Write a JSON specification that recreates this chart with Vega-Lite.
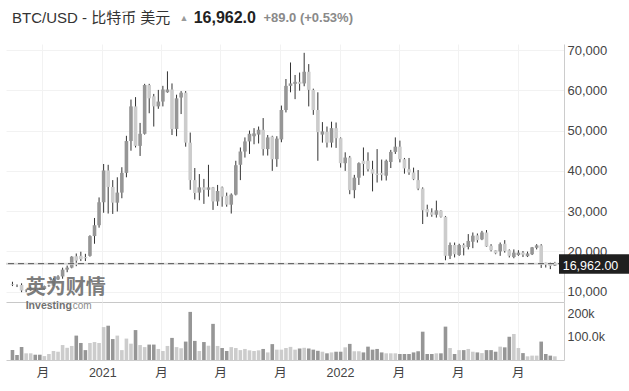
{
  "$schema": "https://vega.github.io/schema/vega-lite/v6.json",
  "padding": {"left": 5, "top": 9, "right": 0, "bottom": 0},
  "background": "white",
  "spacing": 0,
  "bounds": "flush",
  "config": {"view": {"stroke": null}, "font": "Liberation Sans, Noto Sans CJK SC"},
  "datasets": {
    "w": [
      {"d":"2020-08-16","o":11860,"h":12470,"l":11390,"c":11650,"v":43000},
      {"d":"2020-08-23","o":11690,"h":11800,"l":11150,"c":11650,"v":22000},
      {"d":"2020-08-30","o":11650,"h":12080,"l":9880,"c":10280,"v":56000},
      {"d":"2020-09-06","o":10280,"h":10600,"l":9880,"c":10330,"v":29000},
      {"d":"2020-09-13","o":10330,"h":11180,"l":10220,"c":10940,"v":29000},
      {"d":"2020-09-20","o":10940,"h":11050,"l":10140,"c":10730,"v":23000},
      {"d":"2020-09-27","o":10730,"h":10950,"l":10440,"c":10670,"v":23000},
      {"d":"2020-10-04","o":10670,"h":11490,"l":10530,"c":11380,"v":17000},
      {"d":"2020-10-11","o":11380,"h":11720,"l":11210,"c":11500,"v":26000},
      {"d":"2020-10-18","o":11500,"h":13350,"l":11420,"c":13030,"v":39000},
      {"d":"2020-10-25","o":13030,"h":14090,"l":12890,"c":13780,"v":36000},
      {"d":"2020-11-01","o":13780,"h":15960,"l":13220,"c":15480,"v":65000},
      {"d":"2020-11-08","o":15480,"h":16480,"l":14830,"c":15970,"v":53000},
      {"d":"2020-11-15","o":15970,"h":18800,"l":15800,"c":18700,"v":61000},
      {"d":"2020-11-22","o":18800,"h":19480,"l":16330,"c":17700,"v":106000},
      {"d":"2020-11-29","o":18900,"h":19920,"l":17600,"c":18100,"v":74000},
      {"d":"2020-12-06","o":18600,"h":19400,"l":17600,"c":18300,"v":43000},
      {"d":"2020-12-13","o":18900,"h":24000,"l":18700,"c":23800,"v":74000},
      {"d":"2020-12-20","o":23800,"h":28300,"l":21900,"c":26500,"v":78000},
      {"d":"2020-12-27","o":26500,"h":33400,"l":25900,"c":32200,"v":74000},
      {"d":"2021-01-03","o":32200,"h":41700,"l":29600,"c":40100,"v":143000},
      {"d":"2021-01-10","o":40100,"h":41500,"l":29400,"c":36000,"v":149000},
      {"d":"2021-01-17","o":36000,"h":37700,"l":29300,"c":32100,"v":91000},
      {"d":"2021-01-24","o":32100,"h":38400,"l":29900,"c":34600,"v":106000},
      {"d":"2021-01-31","o":34600,"h":40900,"l":33200,"c":39500,"v":43000},
      {"d":"2021-02-07","o":39500,"h":48700,"l":38400,"c":47400,"v":93000},
      {"d":"2021-02-14","o":47400,"h":57700,"l":45000,"c":56000,"v":71000},
      {"d":"2021-02-21","o":56000,"h":58300,"l":45800,"c":46200,"v":130000},
      {"d":"2021-02-28","o":46200,"h":51900,"l":43700,"c":49200,"v":65000},
      {"d":"2021-03-07","o":49200,"h":61600,"l":49000,"c":61300,"v":56000},
      {"d":"2021-03-14","o":61300,"h":61600,"l":54300,"c":58000,"v":67000},
      {"d":"2021-03-21","o":58500,"h":59100,"l":51000,"c":56000,"v":67000},
      {"d":"2021-03-28","o":56000,"h":60100,"l":55400,"c":57200,"v":48000},
      {"d":"2021-04-04","o":57200,"h":61100,"l":56000,"c":60200,"v":39000},
      {"d":"2021-04-11","o":59500,"h":64700,"l":59400,"c":60200,"v":61000},
      {"d":"2021-04-18","o":60200,"h":61700,"l":48900,"c":50400,"v":96000},
      {"d":"2021-04-25","o":50400,"h":58900,"l":48600,"c":58000,"v":56000},
      {"d":"2021-05-02","o":58200,"h":59800,"l":54100,"c":59400,"v":51000},
      {"d":"2021-05-09","o":59400,"h":59800,"l":46000,"c":47000,"v":80000},
      {"d":"2021-05-16","o":47000,"h":49500,"l":35300,"c":37700,"v":209000},
      {"d":"2021-05-23","o":37700,"h":40700,"l":32900,"c":34500,"v":83000},
      {"d":"2021-05-30","o":34600,"h":39200,"l":32700,"c":35900,"v":39000},
      {"d":"2021-06-06","o":35900,"h":38000,"l":31800,"c":35300,"v":78000},
      {"d":"2021-06-13","o":35300,"h":41500,"l":33600,"c":35900,"v":62000},
      {"d":"2021-06-20","o":35900,"h":36000,"l":30300,"c":32400,"v":157000},
      {"d":"2021-06-27","o":32400,"h":36500,"l":31300,"c":35000,"v":61000},
      {"d":"2021-07-04","o":35900,"h":36100,"l":31100,"c":33600,"v":52000},
      {"d":"2021-07-11","o":33800,"h":34600,"l":31100,"c":31600,"v":39000},
      {"d":"2021-07-18","o":31600,"h":34400,"l":29400,"c":34100,"v":56000},
      {"d":"2021-07-25","o":34100,"h":42500,"l":33900,"c":41400,"v":52000},
      {"d":"2021-08-01","o":41500,"h":45800,"l":37700,"c":44800,"v":43000},
      {"d":"2021-08-08","o":44800,"h":48300,"l":43300,"c":47300,"v":48000},
      {"d":"2021-08-15","o":47300,"h":50000,"l":44200,"c":49200,"v":42000},
      {"d":"2021-08-22","o":48600,"h":50600,"l":46600,"c":49300,"v":39000},
      {"d":"2021-08-29","o":49000,"h":51000,"l":46800,"c":50200,"v":42000},
      {"d":"2021-09-05","o":50200,"h":53100,"l":43800,"c":45400,"v":48000},
      {"d":"2021-09-12","o":45400,"h":48900,"l":43800,"c":48300,"v":33000},
      {"d":"2021-09-19","o":48500,"h":48700,"l":40000,"c":42900,"v":69000},
      {"d":"2021-09-26","o":42900,"h":48600,"l":41000,"c":48000,"v":45000},
      {"d":"2021-10-03","o":47800,"h":56200,"l":47100,"c":55100,"v":45000},
      {"d":"2021-10-10","o":55100,"h":62800,"l":54500,"c":61100,"v":52000},
      {"d":"2021-10-17","o":61100,"h":66900,"l":59500,"c":61700,"v":57000},
      {"d":"2021-10-24","o":61600,"h":63800,"l":57800,"c":62100,"v":45000},
      {"d":"2021-10-31","o":62100,"h":64400,"l":59900,"c":61600,"v":50000},
      {"d":"2021-11-07","o":61700,"h":69300,"l":61000,"c":64600,"v":53000},
      {"d":"2021-11-14","o":64600,"h":66500,"l":56000,"c":60100,"v":50000},
      {"d":"2021-11-21","o":60100,"h":60400,"l":53900,"c":55100,"v":45000},
      {"d":"2021-11-28","o":55100,"h":59500,"l":42500,"c":49600,"v":40000},
      {"d":"2021-12-05","o":49000,"h":52100,"l":47000,"c":49800,"v":36000},
      {"d":"2021-12-12","o":49700,"h":51000,"l":45800,"c":47000,"v":29000},
      {"d":"2021-12-19","o":47000,"h":52200,"l":45800,"c":50600,"v":33000},
      {"d":"2021-12-26","o":50600,"h":52000,"l":45700,"c":48100,"v":36000},
      {"d":"2022-01-02","o":48100,"h":48300,"l":40800,"c":41900,"v":36000},
      {"d":"2022-01-09","o":41900,"h":44600,"l":40000,"c":43300,"v":55000},
      {"d":"2022-01-16","o":43300,"h":43700,"l":34200,"c":35200,"v":70000},
      {"d":"2022-01-23","o":35200,"h":39000,"l":33200,"c":38300,"v":38000},
      {"d":"2022-01-30","o":38300,"h":42100,"l":36500,"c":41900,"v":38000},
      {"d":"2022-02-06","o":42500,"h":45800,"l":38800,"c":41700,"v":33000},
      {"d":"2022-02-13","o":42500,"h":44600,"l":39850,"c":40400,"v":58000},
      {"d":"2022-02-20","o":40400,"h":42500,"l":34900,"c":39300,"v":45000},
      {"d":"2022-02-27","o":39300,"h":45400,"l":37100,"c":39000,"v":48000},
      {"d":"2022-03-06","o":39500,"h":42800,"l":37600,"c":39000,"v":33000},
      {"d":"2022-03-13","o":38800,"h":42800,"l":37600,"c":42500,"v":29000},
      {"d":"2022-03-20","o":42200,"h":45200,"l":40700,"c":44700,"v":29000},
      {"d":"2022-03-27","o":44700,"h":48300,"l":44200,"c":46000,"v":29000},
      {"d":"2022-04-03","o":46000,"h":47500,"l":42100,"c":42900,"v":26000},
      {"d":"2022-04-10","o":42900,"h":43200,"l":39300,"c":40600,"v":26000},
      {"d":"2022-04-17","o":40400,"h":43200,"l":39000,"c":39600,"v":26000},
      {"d":"2022-04-24","o":39600,"h":40800,"l":37700,"c":37900,"v":33000},
      {"d":"2022-05-01","o":37700,"h":40200,"l":35200,"c":35600,"v":38000},
      {"d":"2022-05-08","o":35600,"h":35900,"l":26800,"c":30200,"v":123000},
      {"d":"2022-05-15","o":30500,"h":31600,"l":28600,"c":29700,"v":26000},
      {"d":"2022-05-22","o":29700,"h":30700,"l":28600,"c":29100,"v":26000},
      {"d":"2022-05-29","o":29100,"h":32600,"l":28400,"c":30200,"v":29000},
      {"d":"2022-06-05","o":30100,"h":30200,"l":28400,"c":28600,"v":29000},
      {"d":"2022-06-12","o":28600,"h":28800,"l":17800,"c":18900,"v":145000},
      {"d":"2022-06-19","o":18900,"h":22200,"l":18100,"c":21600,"v":52000},
      {"d":"2022-06-26","o":21600,"h":22200,"l":18500,"c":19300,"v":26000},
      {"d":"2022-07-03","o":19100,"h":21900,"l":18900,"c":21600,"v":43000},
      {"d":"2022-07-10","o":21600,"h":22000,"l":19000,"c":20900,"v":43000},
      {"d":"2022-07-17","o":21100,"h":24300,"l":20500,"c":22600,"v":48000},
      {"d":"2022-07-24","o":22400,"h":24700,"l":20800,"c":23900,"v":36000},
      {"d":"2022-07-31","o":24000,"h":24450,"l":22200,"c":22800,"v":33000},
      {"d":"2022-08-07","o":23000,"h":25100,"l":22800,"c":24700,"v":30000},
      {"d":"2022-08-14","o":24700,"h":25300,"l":21100,"c":21200,"v":43000},
      {"d":"2022-08-21","o":21400,"h":21800,"l":20000,"c":20300,"v":43000},
      {"d":"2022-08-28","o":20300,"h":20300,"l":19300,"c":19500,"v":36000},
      {"d":"2022-09-04","o":20000,"h":22200,"l":18900,"c":21800,"v":58000},
      {"d":"2022-09-11","o":21900,"h":22800,"l":19700,"c":20100,"v":55000},
      {"d":"2022-09-18","o":20300,"h":20500,"l":18500,"c":18900,"v":101000},
      {"d":"2022-09-25","o":18600,"h":20500,"l":18300,"c":19700,"v":113000},
      {"d":"2022-10-02","o":19100,"h":20300,"l":18900,"c":19700,"v":52000},
      {"d":"2022-10-09","o":19700,"h":20100,"l":18600,"c":19200,"v":30000},
      {"d":"2022-10-16","o":18800,"h":19950,"l":18600,"c":19500,"v":16000},
      {"d":"2022-10-23","o":19300,"h":21100,"l":19100,"c":21000,"v":19000},
      {"d":"2022-10-30","o":20900,"h":21800,"l":20500,"c":21500,"v":19000},
      {"d":"2022-11-06","o":21500,"h":21800,"l":15900,"c":16800,"v":80000},
      {"d":"2022-11-13","o":17200,"h":17200,"l":16000,"c":16800,"v":26000},
      {"d":"2022-11-20","o":16900,"h":17200,"l":15600,"c":16400,"v":19000},
      {"d":"2022-11-27","o":16500,"h":17400,"l":16400,"c":16962,"v":16000}
    ]
  },
  "vconcat": [
    {
      "width": 558,
      "height": 258,
      "layer": [
        {
          "data": {"name": "w"},
          "mark": {"type": "rule", "color": "#333333", "strokeWidth": 1},
          "encoding": {
            "x": {
              "field": "d", "type": "temporal",
              "scale": {"type": "utc", "nice": false, "domain": [{"year":2020,"month":8,"date":13,"hours":18,"utc":true},{"year":2022,"month":12,"date":3,"hours":8,"utc":true}]},
              "axis": {"values": [{"year":2020,"month":10,"date":1,"utc":true},{"year":2021,"month":1,"date":1,"utc":true},{"year":2021,"month":4,"date":1,"utc":true},{"year":2021,"month":7,"date":1,"utc":true},{"year":2021,"month":10,"date":1,"utc":true},{"year":2022,"month":1,"date":1,"utc":true},{"year":2022,"month":4,"date":1,"utc":true},{"year":2022,"month":7,"date":1,"utc":true},{"year":2022,"month":10,"date":1,"utc":true}],
                       "labels": false, "ticks": false, "domain": true, "domainColor": "#c8c8c8", "grid": true, "gridColor": "#f2f2f2", "title": null}
            },
            "y": {"field": "l", "type": "quantitative",
                  "scale": {"domain": [7440, 71490], "nice": false, "zero": false},
                  "axis": {"orient": "right", "values": [10000,20000,30000,40000,50000,60000,70000], "labelExpr": "format(datum.value, ',')", "grid": true, "gridColor": "#f2f2f2", "ticks": false, "domain": true, "domainColor": "#cccccc", "labelPadding": 3, "labelFontSize": 13, "labelColor": "#444444", "title": null}},
            "y2": {"field": "h"}
          }
        },
        {
          "data": {"name": "w"},
          "mark": {"type": "bar", "size": 3.6},
          "encoding": {
            "x": {"field": "d", "type": "temporal"},
            "y": {"field": "o", "type": "quantitative"},
            "y2": {"field": "c"},
            "color": {"condition": {"test": "datum.c >= datum.o", "value": "#969696"}, "value": "#cccccc"}
          }
        },
        {
          "data": {"values": [{"p": 16962}]},
          "mark": {"type": "rule", "color": "#d9d9d9", "strokeWidth": 2},
          "encoding": {"y": {"field": "p", "type": "quantitative"}}
        },
        {
          "data": {"values": [{"p": 16962}]},
          "mark": {"type": "rule", "color": "#555555", "strokeWidth": 1, "strokeDash": [6, 4]},
          "encoding": {"y": {"field": "p", "type": "quantitative"}}
        },
        {
          "data": {"values": [{"a": "2022-12-03T08:00:00Z", "b": "2023-03-31T00:00:00Z", "top": 19300, "bot": 14470}]},
          "mark": {"type": "rect", "color": "#1f1f1f"},
          "encoding": {
            "x": {"field": "a", "type": "temporal"},
            "x2": {"field": "b"},
            "y": {"field": "top", "type": "quantitative"},
            "y2": {"field": "bot"}
          }
        },
        {
          "data": {"values": [{"t": "16,962.00", "a": "2022-12-09T00:00:00Z", "p": 16500}]},
          "mark": {"type": "text", "color": "#ffffff", "fontSize": 12.5, "align": "left", "baseline": "middle"},
          "encoding": {
            "x": {"field": "a", "type": "temporal"},
            "y": {"field": "p", "type": "quantitative"},
            "text": {"field": "t"}
          }
        },
        {
          "data": {"values": [{"t": "英为财情", "a": "2020-09-05T08:00:00Z", "p": 10950}]},
          "mark": {"type": "text", "color": "#707070", "opacity": 0.9, "fontSize": 20, "fontWeight": "bold", "font": "Noto Sans CJK SC", "align": "left", "baseline": "middle"},
          "encoding": {
            "x": {"field": "a", "type": "temporal"},
            "y": {"field": "p", "type": "quantitative"},
            "text": {"field": "t"}
          }
        },
        {
          "data": {"values": [{"t": "BTC/USD - 比特币 美元", "a": "2020-08-15T06:00:00Z", "p": 78030}]},
          "mark": {"type": "text", "color": "#333333", "fontSize": 15, "align": "left", "baseline": "middle"},
          "encoding": {
            "x": {"field": "a", "type": "temporal"},
            "y": {"field": "p", "type": "quantitative"},
            "text": {"field": "t"}
          }
        },
        {
          "data": {"values": [{"t": "▲", "a": "2021-05-06T06:00:00Z", "p": 78030}]},
          "mark": {"type": "text", "color": "#9a9a9a", "fontSize": 9, "align": "center", "baseline": "middle"},
          "encoding": {
            "x": {"field": "a", "type": "temporal"},
            "y": {"field": "p", "type": "quantitative"},
            "text": {"field": "t"}
          }
        },
        {
          "data": {"values": [{"t": "16,962.0", "a": "2021-05-21T06:00:00Z", "p": 78030}]},
          "mark": {"type": "text", "color": "#222222", "fontSize": 16, "fontWeight": "bold", "align": "left", "baseline": "middle"},
          "encoding": {
            "x": {"field": "a", "type": "temporal"},
            "y": {"field": "p", "type": "quantitative"},
            "text": {"field": "t"}
          }
        },
        {
          "data": {"values": [{"t": "+89.0 (+0.53%)", "a": "2021-09-05T08:00:00Z", "p": 78030}]},
          "mark": {"type": "text", "color": "#8a8a8a", "fontSize": 13, "fontWeight": "bold", "align": "left", "baseline": "middle"},
          "encoding": {
            "x": {"field": "a", "type": "temporal"},
            "y": {"field": "p", "type": "quantitative"},
            "text": {"field": "t"}
          }
        }
      ]
    },
    {
      "width": 558,
      "height": 58,
      "layer": [
        {
          "data": {"name": "w"},
          "mark": {"type": "bar", "size": 3.6},
          "encoding": {
            "x": {
              "field": "d", "type": "temporal",
              "scale": {"type": "utc", "nice": false, "domain": [{"year":2020,"month":8,"date":13,"hours":18,"utc":true},{"year":2022,"month":12,"date":3,"hours":8,"utc":true}]},
              "axis": {"values": [{"year":2020,"month":10,"date":1,"utc":true},{"year":2021,"month":1,"date":1,"utc":true},{"year":2021,"month":4,"date":1,"utc":true},{"year":2021,"month":7,"date":1,"utc":true},{"year":2021,"month":10,"date":1,"utc":true},{"year":2022,"month":1,"date":1,"utc":true},{"year":2022,"month":4,"date":1,"utc":true},{"year":2022,"month":7,"date":1,"utc":true},{"year":2022,"month":10,"date":1,"utc":true}],
                       "labelExpr": "utcmonth(datum.value) === 0 ? '' + utcyear(datum.value) : '月'",
                       "labelOverlap": false, "labelFlush": false,
                       "ticks": false, "domain": true, "domainColor": "#cccccc", "grid": true, "gridColor": "#f2f2f2",
                       "labelPadding": 6, "labelFontSize": 12.5, "labelColor": "#444444", "title": null}
            },
            "y": {"field": "v", "type": "quantitative",
                  "scale": {"domain": [0, 252000], "nice": false},
                  "axis": {"orient": "right", "values": [100000, 200000], "labelExpr": "datum.value >= 200000 ? '200k' : '100.0k'", "grid": false, "ticks": false, "domain": true, "domainColor": "#cccccc", "labelPadding": 3, "labelFontSize": 12.5, "labelColor": "#444444", "title": null}},
            "color": {"condition": {"test": "datum.c >= datum.o", "value": "#cccccc"}, "value": "#969696"}
          }
        },
        {
          "data": {"values": [{"t": "Investing", "a": "2020-09-05T08:00:00Z", "p": 234000}]},
          "mark": {"type": "text", "color": "#707070", "fontSize": 10.5, "fontWeight": "bold", "align": "left", "baseline": "middle"},
          "encoding": {
            "x": {"field": "a", "type": "temporal"},
            "y": {"field": "p", "type": "quantitative"},
            "text": {"field": "t"}
          }
        },
        {
          "data": {"values": [{"t": ".com", "a": "2020-11-12T06:00:00Z", "p": 234000}]},
          "mark": {"type": "text", "color": "#8a8a8a", "fontSize": 10, "align": "left", "baseline": "middle"},
          "encoding": {
            "x": {"field": "a", "type": "temporal"},
            "y": {"field": "p", "type": "quantitative"},
            "text": {"field": "t"}
          }
        }
      ]
    }
  ]
}
